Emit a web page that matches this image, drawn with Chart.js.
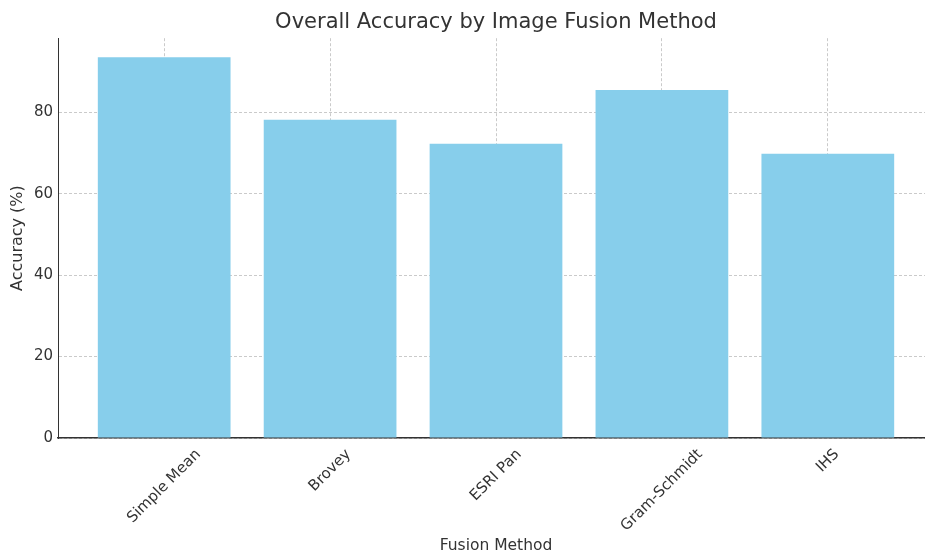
<!DOCTYPE html>
<html>
<head>
<meta charset="utf-8">
<script src="https://cdn.jsdelivr.net/npm/chart.js@4"></script>
<style>
  html, body { margin: 0; padding: 0; background: #fff; overflow: hidden; width: 925px; height: 556px; }
  canvas { display: block; }
</style>
</head>
<body>
<canvas id="accuracyChart" width="934" height="556"></canvas>
<script>
const methods = ['Simple Mean', 'Brovey', 'ESRI Pan', 'Gram-Schmidt', 'IHS'];
const accuracy = [93.5, 78.2, 72.3, 85.5, 69.8];
const yTicks = [0, 20, 40, 60, 80];

const FONT = 'DejaVu Sans';
const TEXT = '#333333';

// matplotlib style category labels: rotated 45deg, centred under each bar
const rotatedLabels = {
    id: 'rotatedLabels',
    afterDraw(chart) {
        const ctx = chart.ctx;
        const xs = chart.scales.x;
        const top = chart.chartArea.bottom + 8;
        ctx.save();
        ctx.font = '15px "' + FONT + '"';
        ctx.fillStyle = TEXT;
        ctx.textAlign = 'center';
        ctx.textBaseline = 'middle';
        methods.forEach(function (name, i) {
            const w = ctx.measureText(name).width;
            const h = 17;
            const box = (w + h) * Math.SQRT1_2;
            ctx.save();
            ctx.translate(xs.getPixelForValue(i), top + box / 2);
            ctx.rotate(-Math.PI / 4);
            ctx.fillText(name, 0, 0);
            ctx.restore();
        });
        ctx.restore();
    }
};

const ctx = document.getElementById('accuracyChart').getContext('2d');
new Chart(ctx, {
    type: 'bar',
    data: {
        datasets: [{
            label: 'Accuracy',
            data: accuracy.map(function (v, i) { return { x: i, y: v }; }),
            backgroundColor: '#87ceeb',
            borderWidth: 0,
            barPercentage: 0.8,
            categoryPercentage: 1.0
        }]
    },
    options: {
        responsive: false,
        animation: false,
        layout: { padding: 0 },
        plugins: {
            legend: { display: false },
            tooltip: { enabled: false },
            title: {
                display: true,
                text: 'Overall Accuracy by Image Fusion Method',
                fullSize: false,
                color: TEXT,
                font: { family: FONT, size: 21, weight: 'normal' },
                padding: { top: 10, bottom: 3 }
            }
        },
        scales: {
            x: {
                type: 'linear',
                min: -0.64,
                max: 4.64,
                offset: false,
                z: 1,
                afterBuildTicks: function (scale) {
                    scale.ticks = methods.map(function (_m, i) { return { value: i }; });
                },
                afterFit: function (scale) { scale.height = 118; },
                ticks: { display: false },
                grid: {
                    offset: false,
                    color: 'rgba(180,180,180,0.7)',
                    lineWidth: 1,
                    drawTicks: false
                },
                border: { display: true, color: TEXT, width: 1.5, dash: [3, 2] },
                title: {
                    display: true,
                    text: 'Fusion Method',
                    color: TEXT,
                    font: { family: FONT, size: 15.5 },
                    padding: { top: 0, bottom: 1 }
                }
            },
            y: {
                min: 0,
                max: 98.2,
                z: 1,
                afterBuildTicks: function (scale) {
                    scale.ticks = yTicks.map(function (v) { return { value: v }; });
                },
                afterFit: function (scale) { scale.width = 58; },
                ticks: {
                    color: TEXT,
                    font: { family: FONT, size: 15 },
                    padding: 5
                },
                grid: {
                    color: 'rgba(180,180,180,0.7)',
                    lineWidth: 1,
                    drawTicks: false
                },
                border: { display: true, color: TEXT, width: 1, dash: [3, 2] },
                title: {
                    display: true,
                    text: 'Accuracy (%)',
                    color: TEXT,
                    font: { family: FONT, size: 16 },
                    padding: { top: 8, bottom: 0 }
                }
            }
        }
    },
    plugins: [rotatedLabels]
});
</script>
</body>
</html>
